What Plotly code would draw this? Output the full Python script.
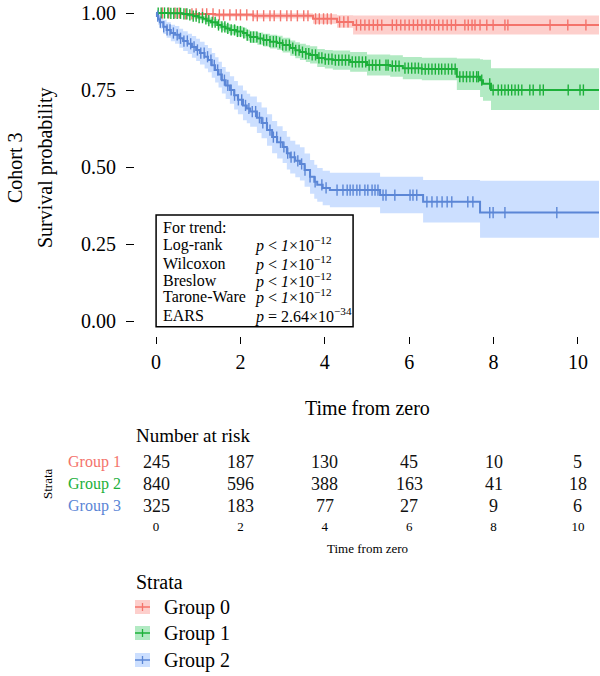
import numpy as np
import plotly.graph_objects as go

# ---------------- data ----------------
group_names = ["Group 0", "Group 1", "Group 2"]
risk_labels = ["Group 1", "Group 2", "Group 3"]
line_colors = ["#F4736B", "#1DB03A", "#5B86D6"]
fill_colors = ["rgba(248,118,109,0.35)", "rgba(0,186,56,0.30)", "rgba(97,156,255,0.32)"]

# Group 0 (red)
t_red = [0, 0.6, 1.4, 2.3, 3.72, 4.29, 4.67, 10.6]
s_red = [1.0, 0.997, 0.994, 0.991, 0.981, 0.971, 0.961, 0.961]
lo_red = [1.0, 0.993, 0.988, 0.982, 0.965, 0.952, 0.930, 0.930]
hi_red = [1.0, 1.0, 1.0, 0.999, 0.996, 0.993, 0.992, 0.992]
cens_red = [0.15, 0.3, 0.45, 0.55, 0.7, 0.85, 0.95, 1.1, 1.2, 1.35, 1.5, 1.6, 1.75, 1.9, 2.0,
            2.15, 2.3, 2.4, 2.55, 2.7, 2.8, 2.95, 3.1, 3.2, 3.35, 3.5, 3.6, 3.78, 3.87, 3.97,
            4.06, 4.15, 4.35, 4.45, 4.55, 4.75, 4.85, 4.95, 5.05, 5.15, 5.25, 5.35, 5.6, 5.7,
            5.8, 5.9, 6.0, 6.1, 6.2, 6.3, 6.4, 6.5, 6.6, 6.7, 6.8, 6.9, 7.0, 7.1, 7.32, 7.4,
            7.49, 7.56, 7.68, 7.84, 7.99, 8.27, 8.34, 9.34, 9.76, 10.19]

# Group 1 (green)
t_grn = [0, 0.3, 0.64, 0.75, 0.88, 1.0, 1.11, 1.2, 1.3, 1.45, 1.55, 1.65, 1.75, 1.9, 2.06,
         2.15, 2.23, 2.4, 2.54, 2.7, 2.87, 3.0, 3.18, 3.3, 3.41, 3.55, 3.65, 3.82, 4.0, 4.19,
         4.6, 5.0, 5.55, 5.85, 6.3, 7.13, 7.68, 7.75, 7.94, 10.6]
s_grn = [1.0, 0.999, 0.997, 0.994, 0.99, 0.985, 0.981, 0.975, 0.97, 0.961, 0.955, 0.95, 0.945,
         0.94, 0.935, 0.928, 0.922, 0.917, 0.912, 0.907, 0.903, 0.896, 0.886, 0.879, 0.873,
         0.868, 0.864, 0.854, 0.85, 0.847, 0.841, 0.831, 0.828, 0.821, 0.818, 0.793, 0.782,
         0.77, 0.75, 0.75]
lo_grn = [1.0, 0.997, 0.993, 0.988, 0.983, 0.977, 0.972, 0.965, 0.959, 0.949, 0.942, 0.936,
          0.93, 0.924, 0.918, 0.91, 0.903, 0.897, 0.891, 0.885, 0.88, 0.872, 0.861, 0.853,
          0.847, 0.841, 0.836, 0.825, 0.82, 0.816, 0.809, 0.797, 0.793, 0.785, 0.782, 0.75,
          0.727, 0.715, 0.685, 0.685]
hi_grn = [1.0, 1.0, 1.0, 1.0, 0.997, 0.993, 0.99, 0.985, 0.981, 0.973, 0.968, 0.964, 0.96,
          0.956, 0.952, 0.946, 0.941, 0.937, 0.933, 0.929, 0.926, 0.92, 0.911, 0.905, 0.9,
          0.895, 0.892, 0.883, 0.88, 0.878, 0.873, 0.865, 0.863, 0.857, 0.855, 0.852, 0.85,
          0.848, 0.821, 0.821]
cens_grn = [0.05, 0.12, 0.2, 0.28, 0.35, 0.42, 0.5, 0.58, 0.66, 0.73, 0.8, 0.88, 0.95, 1.02,
            1.1, 1.18, 1.25, 1.33, 1.4, 1.48, 1.56, 1.63, 1.7, 1.78, 1.86, 1.93, 2.0, 2.08,
            2.16, 2.24, 2.31, 2.39, 2.47, 2.55, 2.62, 2.7, 2.78, 2.85, 2.93, 3.0, 3.08, 3.16,
            3.24, 3.31, 3.39, 3.47, 3.55, 3.62, 3.7, 3.78, 3.86, 3.93, 4.01, 4.09, 4.17, 4.25,
            4.33, 4.41, 4.49, 4.57, 4.65, 4.73, 4.81, 4.89, 4.97, 5.05, 5.13, 5.21, 5.3, 5.45,
            5.5, 5.6, 5.68, 5.76, 5.9, 5.98, 6.06, 6.14, 6.22, 6.3, 6.38, 6.46, 6.54, 6.62,
            6.7, 6.77, 6.85, 6.93, 7.01, 7.09, 7.2, 7.28, 7.36, 7.44, 7.52, 7.6, 7.64, 7.72,
            7.91, 7.99, 8.11, 8.19, 8.27, 8.35, 8.43, 8.51, 8.59, 8.67, 8.86, 8.94, 9.1, 9.18,
            9.77, 10.05, 10.13]

# Group 2 (blue)
t_blu = [0, 0.02, 0.05, 0.09, 0.17, 0.25, 0.35, 0.45, 0.55, 0.64, 0.75, 0.85, 0.95, 1.04,
         1.15, 1.23, 1.32, 1.4, 1.48, 1.56, 1.65, 1.75, 1.85, 1.94, 2.06, 2.15, 2.23, 2.39,
         2.5, 2.63, 2.75, 2.87, 3.0, 3.1, 3.18, 3.3, 3.41, 3.52, 3.65, 3.75, 3.82, 3.95, 4.12,
         5.31, 6.33, 7.68, 10.6]
s_blu = [1.0, 0.99, 0.98, 0.97, 0.955, 0.945, 0.935, 0.929, 0.918, 0.909, 0.9, 0.89, 0.88,
         0.87, 0.858, 0.847, 0.83, 0.815, 0.8, 0.782, 0.765, 0.75, 0.733, 0.718, 0.7, 0.69,
         0.68, 0.66, 0.643, 0.62, 0.597, 0.58, 0.565, 0.545, 0.532, 0.52, 0.51, 0.49, 0.468,
         0.452, 0.442, 0.432, 0.425, 0.409, 0.387, 0.352, 0.352]
lo_blu = [1.0, 0.975, 0.962, 0.95, 0.932, 0.92, 0.908, 0.9, 0.887, 0.877, 0.867, 0.855, 0.844,
          0.833, 0.82, 0.808, 0.79, 0.774, 0.758, 0.739, 0.721, 0.705, 0.687, 0.671, 0.652,
          0.642, 0.631, 0.61, 0.593, 0.569, 0.545, 0.528, 0.513, 0.492, 0.479, 0.467, 0.456,
          0.436, 0.413, 0.397, 0.387, 0.376, 0.369, 0.35, 0.32, 0.27, 0.27]
hi_blu = [1.0, 1.0, 0.998, 0.99, 0.978, 0.97, 0.962, 0.958, 0.949, 0.941, 0.933, 0.925, 0.916,
          0.907, 0.896, 0.886, 0.87, 0.856, 0.842, 0.825, 0.809, 0.795, 0.779, 0.765, 0.748,
          0.738, 0.729, 0.71, 0.693, 0.671, 0.649, 0.632, 0.617, 0.598, 0.585, 0.573, 0.564,
          0.544, 0.523, 0.507, 0.497, 0.488, 0.481, 0.468, 0.458, 0.455, 0.455]
cens_blu = [0.04, 0.1, 0.18, 0.26, 0.33, 0.41, 0.5, 0.58, 0.66, 0.74, 0.82, 0.9, 0.98, 1.06,
            1.14, 1.22, 1.3, 1.38, 1.46, 1.54, 1.62, 1.7, 1.78, 1.86, 1.95, 2.03, 2.12, 2.2,
            2.28, 2.36, 2.45, 2.53, 2.62, 2.7, 2.78, 2.86, 2.95, 3.03, 3.12, 3.2, 3.28, 3.36,
            3.45, 3.53, 3.65, 3.77, 3.93, 4.03, 4.29, 4.43, 4.53, 4.6, 4.67, 4.76, 4.83, 4.95,
            5.02, 5.12, 5.19, 5.26, 5.38, 5.45, 5.66, 6.02, 6.09, 6.18, 6.42, 6.54, 6.66, 6.78,
            6.9, 7.01, 7.39, 7.51, 7.91, 7.99, 8.27, 9.5]

# number at risk table
risk_times = [0, 2, 4, 6, 8, 10]
risk_g1 = [245, 187, 130, 45, 10, 5]
risk_g2 = [840, 596, 388, 163, 41, 18]
risk_g3 = [325, 183, 77, 27, 9, 6]

# test statistics
test_names = ["Log-rank", "Wilcoxon", "Breslow", "Tarone-Ware", "EARS"]
test_pvals = ["<i>p</i> < <i>1</i>×10<sup>−12</sup>",
              "<i>p</i> < <i>1</i>×10<sup>−12</sup>",
              "<i>p</i> < <i>1</i>×10<sup>−12</sup>",
              "<i>p</i> < <i>1</i>×10<sup>−12</sup>",
              "<i>p</i> = 2.64×10<sup>−34</sup>"]

y_ticks = [0.0, 0.25, 0.5, 0.75, 1.0]
x_ticks = [0, 2, 4, 6, 8, 10]

# ---------------- figure ----------------
FONT = "Liberation Serif"
W, H = 600, 676


def PX(px):
    return px / W


def PY(py):
    return 1 - py / H


curves = [
    (t_red, s_red, lo_red, hi_red, cens_red),
    (t_grn, s_grn, lo_grn, hi_grn, cens_grn),
    (t_blu, s_blu, lo_blu, hi_blu, cens_blu),
]

fig = go.Figure()

# ribbons
for i, (t, s, lo, hi, c) in enumerate(curves):
    fig.add_trace(go.Scatter(x=t, y=hi, mode="lines", line=dict(width=0, shape="hv"),
                             showlegend=False, hoverinfo="skip"))
    fig.add_trace(go.Scatter(x=t, y=lo, mode="lines", line=dict(width=0, shape="hv"),
                             fill="tonexty", fillcolor=fill_colors[i],
                             showlegend=False, hoverinfo="skip"))

# survival lines and censor marks
for i, (t, s, lo, hi, c) in enumerate(curves):
    fig.add_trace(go.Scatter(x=t, y=s, mode="lines",
                             line=dict(width=2, color=line_colors[i], shape="hv"),
                             name=group_names[i], showlegend=False))
    ta = np.array(t)
    sa = np.array(s)
    idx = np.searchsorted(ta, np.array(c), side="right") - 1
    fig.add_trace(go.Scatter(x=c, y=sa[idx], mode="markers",
                             marker=dict(symbol="line-ns-open", size=8, color=line_colors[i],
                                         line=dict(width=1.4, color=line_colors[i])),
                             showlegend=False, hoverinfo="skip"))

# invisible anchor trace for the risk-table axes
fig.add_trace(go.Scatter(x=risk_times, y=[1] * len(risk_times), mode="markers",
                         marker=dict(size=1, opacity=0), xaxis="x2", yaxis="y2",
                         showlegend=False, hoverinfo="skip"))

annotations = []
shapes = []

# risk table numbers (positioned on the table's x axis)
for k, vals in enumerate([risk_g1, risk_g2, risk_g3]):
    for tt, v in zip(risk_times, vals):
        annotations.append(dict(xref="x2", yref="y2", x=tt, y=k + 1, text=str(v),
                                showarrow=False, xanchor="center", yanchor="middle",
                                font=dict(family=FONT, size=18, color="#111111")))

# box with tests
shapes.append(dict(type="rect", xref="x", yref="y", x0=0, x1=4.67, y0=-0.019, y1=0.344,
                   line=dict(color="black", width=1.5), fillcolor="white", layer="above"))
box_rows_y = [0.305, 0.247, 0.188, 0.133, 0.078, 0.019]
annotations.append(dict(xref="x", yref="y", x=0.12, y=box_rows_y[0], text="For trend:",
                        showarrow=False, xanchor="left", yanchor="middle",
                        font=dict(family=FONT, size=16, color="black")))
for j, (nm, pv) in enumerate(zip(test_names, test_pvals)):
    annotations.append(dict(xref="x", yref="y", x=0.12, y=box_rows_y[j + 1], text=nm,
                            showarrow=False, xanchor="left", yanchor="middle",
                            font=dict(family=FONT, size=16, color="black")))
    annotations.append(dict(xref="x", yref="y", x=2.3, y=box_rows_y[j + 1], text=pv,
                            showarrow=False, xanchor="left", yanchor="middle",
                            font=dict(family=FONT, size=16, color="black")))

# y axis titles
annotations.append(dict(xref="paper", yref="paper", x=PX(15), y=PY(168), text="Cohort 3",
                        textangle=-90, showarrow=False, xanchor="center", yanchor="middle",
                        font=dict(family=FONT, size=20, color="black")))
annotations.append(dict(xref="paper", yref="paper", x=PX(46), y=PY(168),
                        text="Survival probability", textangle=-90, showarrow=False,
                        xanchor="center", yanchor="middle",
                        font=dict(family=FONT, size=20, color="black")))
# x axis title
annotations.append(dict(xref="paper", yref="paper", x=PX(367), y=PY(408),
                        text="Time from zero", showarrow=False, xanchor="center",
                        yanchor="middle", font=dict(family=FONT, size=20, color="black")))

# risk table headings
annotations.append(dict(xref="paper", yref="paper", x=PX(134), y=PY(435),
                        text="Number at risk", showarrow=False, xanchor="left",
                        yanchor="middle", font=dict(family=FONT, size=19, color="black")))
for k in range(3):
    annotations.append(dict(xref="paper", yref="y2", x=PX(123), y=k + 1, text=risk_labels[k],
                            showarrow=False, xanchor="right", yanchor="middle",
                            font=dict(family=FONT, size=16, color=line_colors[k])))
annotations.append(dict(xref="paper", yref="paper", x=PX(47), y=PY(484), text="Strata",
                        textangle=-90, showarrow=False, xanchor="center", yanchor="middle",
                        font=dict(family=FONT, size=13, color="black")))
annotations.append(dict(xref="paper", yref="paper", x=PX(367), y=PY(548),
                        text="Time from zero", showarrow=False, xanchor="center",
                        yanchor="middle", font=dict(family=FONT, size=13, color="black")))

# legend (drawn)
annotations.append(dict(xref="paper", yref="paper", x=PX(134), y=PY(582), text="Strata",
                        showarrow=False, xanchor="left", yanchor="middle",
                        font=dict(family=FONT, size=20, color="black")))
leg_y = [607, 633, 660]
for k in range(3):
    yy = leg_y[k]
    shapes.append(dict(type="rect", xref="paper", yref="paper", x0=PX(135), x1=PX(150),
                       y0=PY(yy - 7), y1=PY(yy + 7), line=dict(width=0),
                       fillcolor=fill_colors[k]))
    shapes.append(dict(type="line", xref="paper", yref="paper", x0=PX(135), x1=PX(150),
                       y0=PY(yy), y1=PY(yy), line=dict(width=1.5, color=line_colors[k])))
    shapes.append(dict(type="line", xref="paper", yref="paper", x0=PX(142.5), x1=PX(142.5),
                       y0=PY(yy - 4), y1=PY(yy + 4), line=dict(width=1.3, color=line_colors[k])))
    annotations.append(dict(xref="paper", yref="paper", x=PX(162), y=PY(yy),
                            text=group_names[k], showarrow=False, xanchor="left",
                            yanchor="middle", font=dict(family=FONT, size=20, color="black")))

ymin = (321 - 336) / 308
ymax = 321 / 308

fig.update_layout(
    width=W, height=H,
    margin=dict(l=0, r=0, t=0, b=0),
    paper_bgcolor="white", plot_bgcolor="white",
    font=dict(family=FONT, color="black"),
    showlegend=False,
    xaxis=dict(domain=[PX(135), PX(599)], range=[-0.5, 10.5], anchor="y",
               tickvals=x_ticks, ticks="outside", ticklen=7, tickwidth=1, tickcolor="black",
               showgrid=False, zeroline=False, showline=False,
               tickfont=dict(family=FONT, size=20, color="black"), ticklabelstandoff=1),
    yaxis=dict(domain=[PY(336), 1], range=[ymin, ymax], anchor="x",
               tickvals=y_ticks, ticktext=["0.00", "0.25", "0.50", "0.75", "1.00"],
               ticks="outside", ticklen=8, tickwidth=1, tickcolor="black",
               showgrid=False, zeroline=False, showline=False,
               tickfont=dict(family=FONT, size=20, color="black"), ticklabelstandoff=6),
    xaxis2=dict(domain=[PX(135), PX(599)], range=[-0.5, 10.5], anchor="y2",
                tickvals=x_ticks, ticks="", showgrid=False, zeroline=False, showline=False,
                tickfont=dict(family=FONT, size=13, color="black"), ticklabelstandoff=0),
    yaxis2=dict(domain=[PY(517), PY(451)], range=[3.5, 0.5], anchor="x2",
                showticklabels=False, ticks="", showgrid=False, zeroline=False,
                showline=False),
    annotations=annotations,
    shapes=shapes,
)

fig.write_html("out.html")
